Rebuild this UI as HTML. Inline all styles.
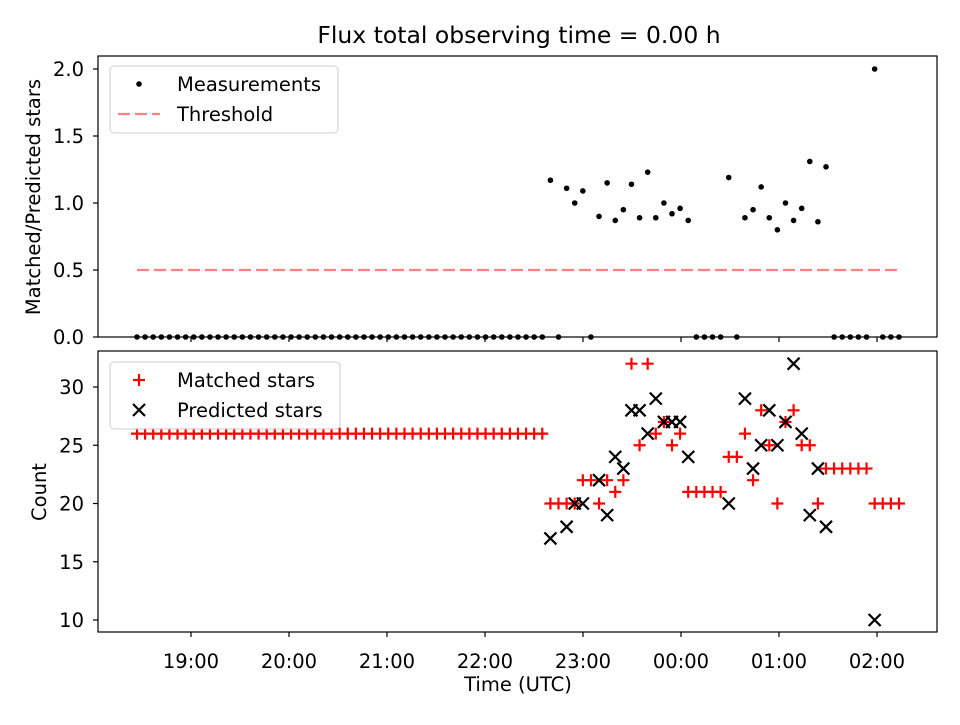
<!DOCTYPE html>
<html><head><meta charset="utf-8"><style>
body{margin:0;background:#fff;}
svg text{font-family:"DejaVu Sans","Liberation Sans",sans-serif;fill:#000;}
</style></head><body>
<svg width="960" height="720" viewBox="0 0 960 720" xmlns="http://www.w3.org/2000/svg">
<rect width="960" height="720" fill="#fff"/>
<text x="519" y="43" font-size="23.5" text-anchor="middle">Flux total observing time = 0.00 h</text>
<g id="topg"></g>
<g id="botg"></g>
<g id="xt"></g>
<text x="518" y="691" font-size="19.5" text-anchor="middle">Time (UTC)</text>
<text transform="translate(40,197) rotate(-90)" font-size="19.5" text-anchor="middle">Matched/Predicted stars</text>
<text transform="translate(46,492) rotate(-90)" font-size="19.5" text-anchor="middle">Count</text>
</svg>
<script>
// time index of each sample (x = 137 + 8.106*i)
const sampleIdx = Array.from({length:95},(_,i)=>i);
const ratioPoints = [[51,1.17],[53,1.11],[54,1.00],[55,1.09],[57,0.90],[58,1.15],[59,0.87],[60,0.95],[61,1.14],[62,0.89],[63,1.23],[64,0.89],[65,1.00],[66,0.92],[67,0.96],[68,0.87],[73,1.19],[75,0.89],[76,0.95],[77,1.12],[78,0.89],[79,0.80],[80,1.00],[81,0.87],[82,0.96],[83,1.31],[84,0.86],[85,1.27],[91,2.00]];
const matchedVals = [26,26,26,26,26,26,26,26,26,26,26,26,26,26,26,26,26,26,26,26,26,26,26,26,26,26,26,26,26,26,26,26,26,26,26,26,26,26,26,26,26,26,26,26,26,26,26,26,26,26,26,
 20,20,20,20,22,22,20,22,21,22,32,25,32,26,27,25,26,21,21,21,21,21,24,24,26,22,28,25,20,27,28,25,25,20,23,23,23,23,23,23,20,20,20,20];
const predictedPoints = [[51,17],[53,18],[54,20],[55,20],[57,22],[58,19],[59,24],[60,23],[61,28],[62,28],[63,26],[64,29],[65,27],[66,27],[67,27],[68,24],[73,20],[75,29],[76,23],[77,25],[78,28],[79,25],[80,27],[81,32],[82,26],[83,19],[84,23],[85,18],[91,10]];
const topTicks = [0,0.5,1.0,1.5,2.0];
const botTicks = [10,15,20,25,30];
const xTickLabels = ["19:00","20:00","21:00","22:00","23:00","00:00","01:00","02:00"];
const threshold = 0.5;

const NS="http://www.w3.org/2000/svg";
const L=98,R=937;
const xIdx=i=>137+8.106*i;
const xHour=h=>191+98*h;
const yTop=v=>337-134*v;
const yBot=v=>620-11.65*(v-10);
function mk(p,t,a){const e=document.createElementNS(NS,t);for(const k in a)e.setAttribute(k,a[k]);p.appendChild(e);return e;}
const topG=document.getElementById('topg'),botG=document.getElementById('botg'),xt=document.getElementById('xt');

const ratioMap={};ratioPoints.forEach(p=>ratioMap[p[0]]=p[1]);
sampleIdx.forEach(i=>{
 const v=ratioMap[i]!==undefined?ratioMap[i]:0;
 const c=mk(topG,'circle',{cx:xIdx(i),cy:yTop(v),r:2.8,fill:'#000'});
 
 
});
const th=mk(topG,'line',{x1:xIdx(0),x2:xIdx(94),y1:yTop(threshold),y2:yTop(threshold),stroke:'#ff8080','stroke-width':2.2,'stroke-dasharray':'12,5'});



matchedVals.forEach((v,i)=>{
 const x=xIdx(i),y=yBot(v);
 const g=mk(botG,'path',{d:`M${x-6},${y}H${x+6}M${x},${y-6}V${y+6}`,stroke:'#f00','stroke-width':2.2});
 
 
});
predictedPoints.forEach(p=>{
 const x=xIdx(p[0]),y=yBot(p[1]),d=6;
 const g=mk(botG,'path',{d:`M${x-d},${y-d}L${x+d},${y+d}M${x-d},${y+d}L${x+d},${y-d}`,stroke:'#000','stroke-width':2.2});
 
 
});

const f1=mk(topG,'rect',{x:L,y:56,width:R-L,height:281,fill:'none',stroke:'#000','stroke-width':1.2});


const f2=mk(botG,'rect',{x:L,y:351,width:R-L,height:281,fill:'none',stroke:'#000','stroke-width':1.2});



topTicks.forEach(v=>{
 const y=yTop(v);
 mk(topG,'line',{x1:L-5,x2:L,y1:y,y2:y,stroke:'#000','stroke-width':1.2});
 const t=mk(topG,'text',{x:L-14,y:y+7,'font-size':19.5,'text-anchor':'end'});t.textContent=v.toFixed(1);
 
 
});
botTicks.forEach(v=>{
 const y=yBot(v);
 mk(botG,'line',{x1:L-5,x2:L,y1:y,y2:y,stroke:'#000','stroke-width':1.2});
 const t=mk(botG,'text',{x:L-14,y:y+7,'font-size':19.5,'text-anchor':'end'});t.textContent=v;
 
 
});
xTickLabels.forEach((s,h)=>{
 const x=xHour(h);
 mk(xt,'line',{x1:x,x2:x,y1:337,y2:342,stroke:'#000','stroke-width':1.2});
 mk(xt,'line',{x1:x,x2:x,y1:632,y2:637,stroke:'#000','stroke-width':1.2});
 const t=mk(xt,'text',{x:x,y:668,'font-size':19.5,'text-anchor':'middle'});t.textContent=s;
 
 
});

function legend(parent,y0,w,name,entries){
 const g=mk(parent,'g',{});
 
 
 mk(g,'rect',{x:110,y:y0,width:w,height:67,rx:4,fill:'#fff','fill-opacity':0.8,stroke:'#ccc'});
 entries.forEach((e,k)=>{
  const y=y0+18+k*30;
  e.draw(g,139,y);
  const t=mk(g,'text',{x:177,y:y+7,'font-size':19.5});t.textContent=e.label;
  
  
 });
}
legend(topG,66,228,'top-legend',[
 {label:'Measurements',draw:(g,x,y)=>mk(g,'circle',{cx:x,cy:y,r:2.8,fill:'#000'})},
 {label:'Threshold',draw:(g,x,y)=>mk(g,'line',{x1:x-21,x2:x+21,y1:y,y2:y,stroke:'#ff8080','stroke-width':2.2,'stroke-dasharray':'12,5'})}
]);
legend(botG,362,230,'bottom-legend',[
 {label:'Matched stars',draw:(g,x,y)=>mk(g,'path',{d:`M${x-6},${y}H${x+6}M${x},${y-6}V${y+6}`,stroke:'#f00','stroke-width':2.2})},
 {label:'Predicted stars',draw:(g,x,y)=>mk(g,'path',{d:`M${x-6},${y-6}L${x+6},${y+6}M${x-6},${y+6}L${x+6},${y-6}`,stroke:'#000','stroke-width':2.2})}
]);
</script>
</body></html>
